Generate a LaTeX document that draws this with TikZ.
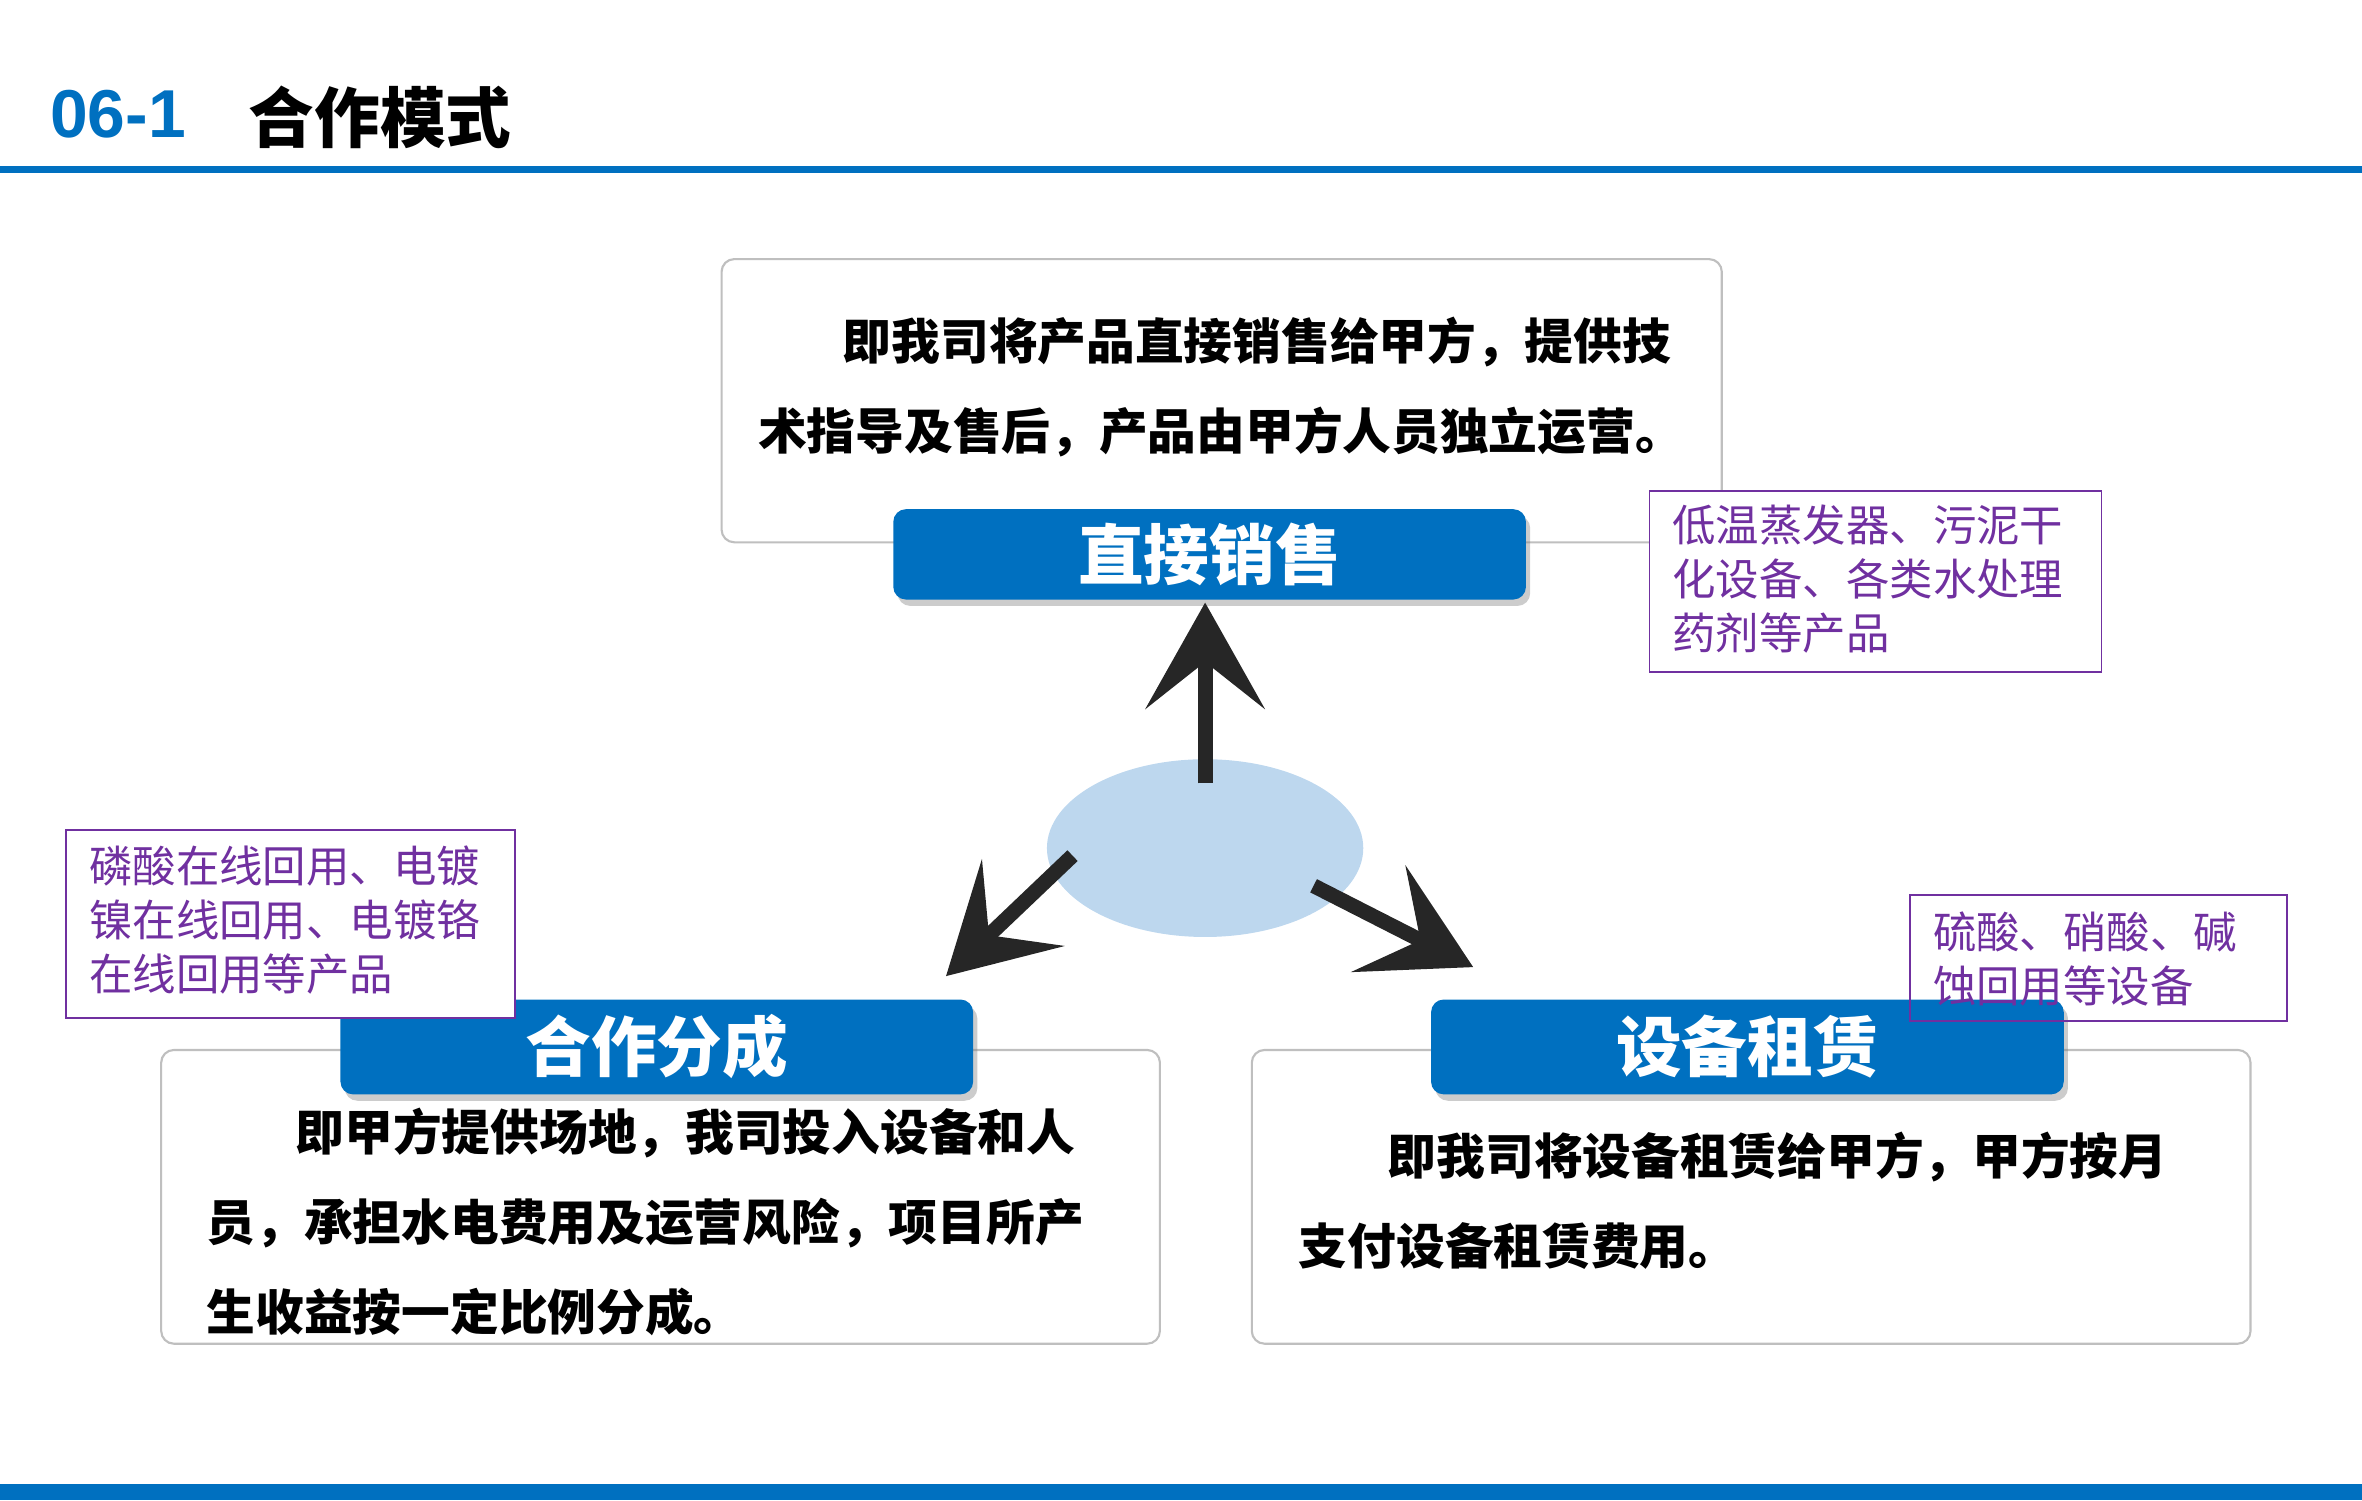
\documentclass[tikz,border=0pt]{standalone}
\usepackage{fontspec}
\setmainfont{Liberation Sans}
\newfontfamily\cjk{Noto Sans CJK SC}
\usetikzlibrary{shadows,arrows.meta,shapes.geometric}
\definecolor{mblue}{HTML}{0070C0}
\definecolor{mpurple}{HTML}{7030A0}
\definecolor{lblue}{HTML}{BDD7EE}
\definecolor{arr}{HTML}{262626}
\tikzset{
 card/.style={draw=black!25,line width=1pt,rounded corners=6pt,fill=white},
 tab/.style={fill=mblue,rounded corners=6pt,drop shadow={shadow xshift=2pt,shadow yshift=-3pt,opacity=0.4},text=white,font=\cjk\bfseries\fontsize{31}{36}\selectfont},
 note/.style={draw=mpurple,line width=0.8pt,fill=white},
 notetext/.style={text=mpurple,font=\cjk\fontsize{20.5}{25.5}\selectfont,anchor=north west,align=left,inner sep=0pt},
 body/.style={font=\cjk\bfseries\fontsize{23}{42.5}\selectfont,anchor=north west,align=left,inner sep=0pt},
 bigarrow/.style={draw=arr,line width=7pt,-{Stealth[length=50pt,width=56pt,inset=22pt]},shorten <=0pt}
}
\begin{document}
\begin{tikzpicture}[x=0.025cm,y=-0.025cm]
\useasboundingbox (0,0) rectangle (1568,996);
% header
\node[anchor=west,text=mblue,font=\bfseries\fontsize{32}{36}\selectfont,inner sep=0pt] (num) at (33,76) {06-1};
\node[anchor=west,font=\cjk\bfseries\fontsize{31}{36}\selectfont,inner sep=0pt] (ttl) at (165,78) {合作模式};
\fill[mblue] (0,110) rectangle (1568,115);
\fill[mblue] (0,985) rectangle (1568,996);
% top card
\draw[card] (479,172) rectangle (1143,360);
\node[body] (t1) at (503,210) {\hspace{40pt}即我司将产品直接销售给甲方，提供技\\术指导及售后，产品由甲方人员独立运营。};
\node[tab,minimum width=420*0.025cm,minimum height=60*0.025cm] (tab1) at (803,368) {直接销售};
% note 1
\draw[note] (1095,326) rectangle (1395,446);
\node[notetext] (n1) at (1110,335) {低温蒸发器、污泥干\\化设备、各类水处理\\药剂等产品};
% ellipse
\node[ellipse,fill=lblue,minimum width=210*0.025cm,minimum height=118*0.025cm,inner sep=0pt] (hub) at (800,563) {};
\coordinate (a0) at (800,520);
\coordinate (a1) at (800,400);
\coordinate (b0) at (712,568);
\coordinate (b1) at (628,648);
\coordinate (c0) at (872,588);
\coordinate (c1) at (978,642);
\draw[bigarrow] (a0) -- (a1);
\draw[bigarrow] (b0) -- (b1);
\draw[bigarrow] (c0) -- (c1);
% left card
\draw[card] (107,697) rectangle (770,892);
\node[body] (t2) at (137,735) {\hspace{42pt}即甲方提供场地，我司投入设备和人\\员，承担水电费用及运营风险，项目所产\\生收益按一定比例分成。};
\node[tab,minimum width=420*0.025cm,minimum height=63*0.025cm] (tab2) at (436,695) {合作分成};
\draw[note] (44,551) rectangle (342,676);
\node[notetext] (n2) at (59,561) {磷酸在线回用、电镀\\镍在线回用、电镀铬\\在线回用等产品};
% right card
\draw[card] (831,697) rectangle (1494,892);
\node[body] (t3) at (862,751) {\hspace{42pt}即我司将设备租赁给甲方，甲方按月\\支付设备租赁费用。};
\node[tab,minimum width=420*0.025cm,minimum height=63*0.025cm] (tab3) at (1160,695) {设备租赁};
\draw[note,fill=none] (1268,594) rectangle (1518,678);
\node[notetext] (n3) at (1283,605) {硫酸、硝酸、碱\\蚀回用等设备};
\end{tikzpicture}
\end{document}
